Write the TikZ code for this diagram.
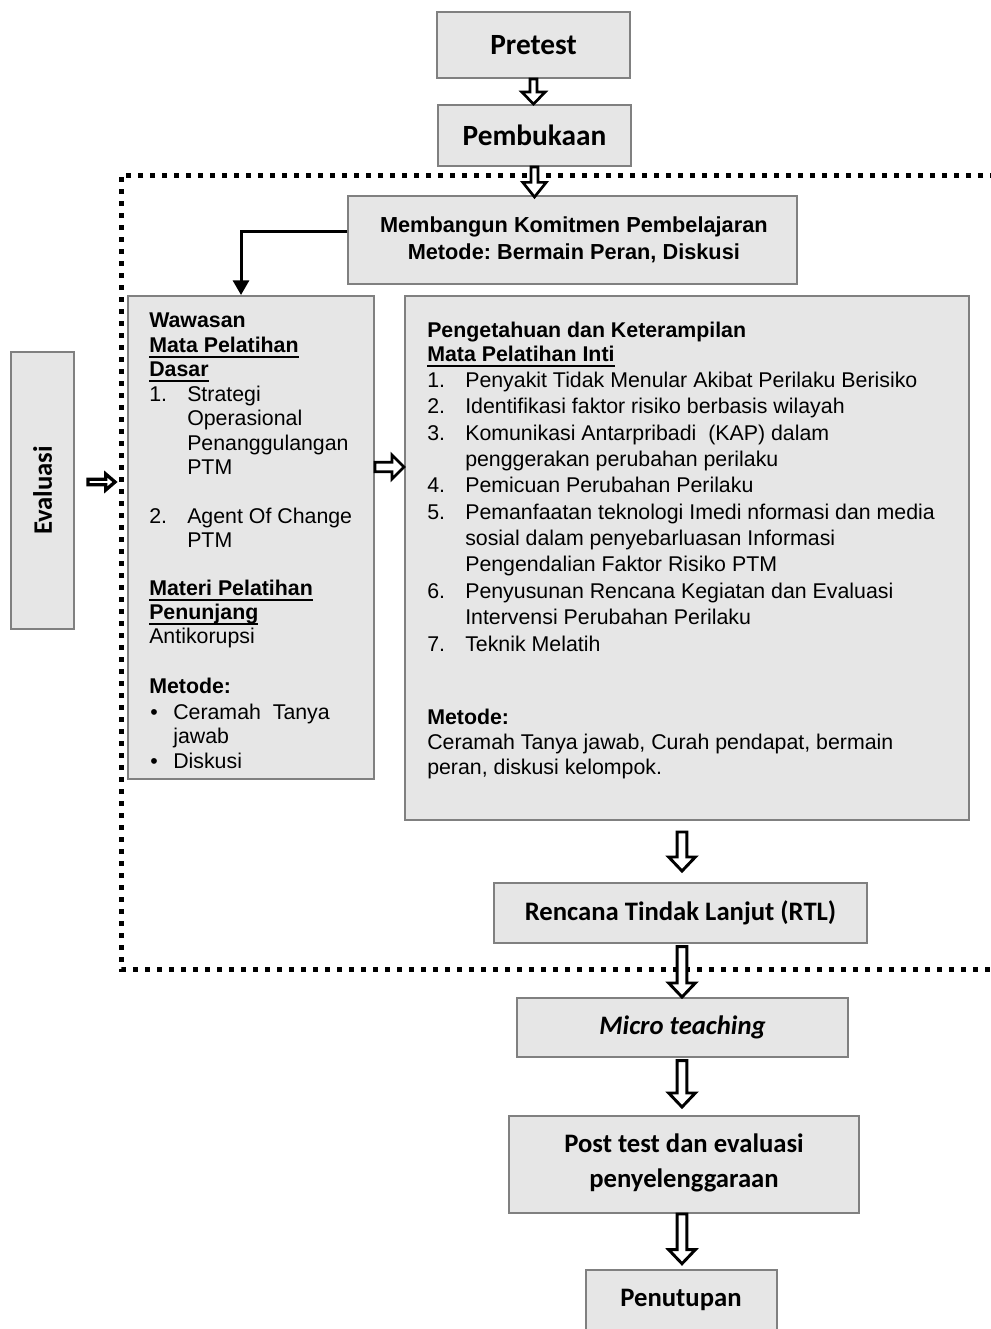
\documentclass[tikz,border=0pt]{standalone}
\usepackage{fontspec}
\setmainfont{Liberation Sans}
\newfontfamily\calib{Carlito}
\usetikzlibrary{arrows.meta,fit,calc}
\definecolor{boxfill}{HTML}{E6E6E6}
\definecolor{boxline}{HTML}{808080}
\frenchspacing
\newcommand\myul[1]{\leavevmode\setbox0\hbox{#1}\rlap{\rule[-4.2pt]{\wd0}{1.4pt}}\box0}
\tikzset{
  box/.style={draw=boxline, fill=boxfill, line width=1.5pt, inner sep=0pt},
  ttl/.style={inner sep=0pt, font=\frenchspacing\calib\bfseries\fontsize{20}{26}\selectfont},
  bigttl/.style={inner sep=0pt, font=\calib\bfseries\fontsize{22}{28}\selectfont},
  tx/.style={anchor=base west, inner sep=0pt, font=\fontsize{16}{19}\selectfont},
  hollow/.style={draw=black, fill=white, line width=1.9pt, line join=miter},
  hdown/.style n args={3}{to path={let \p1=(\tikztostart), \p2=(\tikztotarget) in
    (\x1-#1,\y1) -- (\x1-#1,\y2+#3) -- (\x1-#2,\y2+#3) -- (\x1,\y2) -- (\x1+#2,\y2+#3) -- (\x1+#1,\y2+#3) -- (\x1+#1,\y1) -- cycle}},
  hright/.style n args={3}{to path={let \p1=(\tikztostart), \p2=(\tikztotarget) in
    (\x1,\y1+#1) -- (\x2-#3,\y1+#1) -- (\x2-#3,\y1+#2) -- (\x2,\y1) -- (\x2-#3,\y1-#2) -- (\x2-#3,\y1-#1) -- (\x1,\y1-#1) -- cycle}},
}
\begin{document}
\begin{tikzpicture}[x=0.75pt,y=-0.75pt]
\fill[white] (0,0) rectangle (990,1329);
\useasboundingbox (0,0) rectangle (990,1329);

% dotted frame
\draw[line width=3.75pt, dash pattern=on 3.75pt off 5.25pt] (995,175) -- (121,175) -- (121,969) -- (995,969);

% boxes
\node[box, fit={(437,12) (630,78)}] (pre) {};
\node[bigttl] (pret) at (pre.center) {Pretest};
\node[box, fit={(438,105) (631,166)}] (pem) {};
\node[bigttl] (pemt) at (pem.center) {Pembukaan};
\node[box, fit={(348,196) (797,284)}] (mem) {};
\node[inner sep=0pt, align=center, font=\bfseries\fontsize{16.3}{20.25}\selectfont] (memt) at ([xshift=1pt]mem.center) {Membangun Komitmen Pembelajaran\\Metode: Bermain Peran, Diskusi};
\node[box, fit={(128,296) (374,779)}] (lbox) {};
\node[box, fit={(405,296) (969,820)}] (rbox) {};
\node[box, fit={(11,352) (74,629)}] (ev) {};
\node[ttl, rotate=90] (evt) at (ev.center) {Evaluasi};
\node[box, fit={(494,883) (867,943)}] (rtl) {};
\node[ttl] (rtlt) at (rtl.center) {Rencana Tindak Lanjut (RTL)};
\node[box, fit={(517,998) (848,1057)}] (micro) {};
\node[ttl] (microt) at (micro.center) {\itshape Micro teaching};
\node[box, fit={(509,1116) (859,1213)}] (post) {};
\node[ttl, align=center, font=\calib\bfseries\fontsize{20}{26.25}\selectfont] (postt) at ([yshift=1pt]post.center) {Post test dan evaluasi\\penyelenggaraan};
\node[box, fit={(586,1270) (777,1335)}] (pen) {};
\node[ttl] (pent) at (681,1300) {Penutupan};

% left box text
\foreach \x/\y/\t [count=\i] in {
  149/327/{\textbf{Wawasan}},
  149/352/{\textbf{\myul{Mata Pelatihan}}},
  149/376/{\textbf{\myul{Dasar}}},
  149/401/{1.},
  187/401/{Strategi},
  187/425/{Operasional},
  187/450/{Penanggulangan},
  187/474/{PTM},
  149/523/{2.},
  187/523/{Agent Of Change},
  187/547/{PTM},
  149/595/{\textbf{\myul{Materi Pelatihan}}},
  149/619/{\textbf{\myul{Penunjang}}},
  149/643/{Antikorupsi},
  149/693/{\textbf{Metode:}},
  150/719/{\textbullet},
  173/719/{Ceramah\ \ Tanya},
  173/743/{jawab},
  150/768/{\textbullet},
  173/768/{Diskusi}}
  \node[tx] (l\i) at (\x,\y) {\t};

% right box text
\foreach \x/\y/\t [count=\i] in {
  427/337/{\textbf{Pengetahuan dan Keterampilan}},
  427/361/{\textbf{\myul{Mata Pelatihan Inti}}},
  427/387/{1.}, 465/387/{Penyakit Tidak Menular Akibat Perilaku Berisiko},
  427/413/{2.}, 465/413/{Identifikasi faktor risiko berbasis wilayah},
  427/440/{3.}, 465/440/{Komunikasi Antarpribadi\ \ (KAP) dalam},
  465/466/{penggerakan perubahan perilaku},
  427/492/{4.}, 465/492/{Pemicuan Perubahan Perilaku},
  427/519/{5.}, 465/519/{Pemanfaatan teknologi Imedi nformasi dan media},
  465/545/{sosial dalam penyebarluasan Informasi},
  465/571/{Pengendalian Faktor Risiko PTM},
  427/598/{6.}, 465/598/{Penyusunan Rencana Kegiatan dan Evaluasi},
  465/624/{Intervensi Perubahan Perilaku},
  427/651/{7.}, 465/651/{Teknik Melatih},
  427/724/{\textbf{Metode:}},
  427/749/{Ceramah Tanya jawab, Curah pendapat, bermain},
  427/774/{peran, diskusi kelompok.}}
  \node[tx] (r\i) at (\x,\y) {\t};

% connectors
\coordinate (ax) at (682,0);
\coordinate (r1) at (682,832);
\coordinate (r2) at (682,871);
\coordinate (hm) at (390,467);
\coordinate (e1) at (88,482);
\coordinate (e2) at (115,482);

\draw[hollow, line width=2pt, hdown={2.6pt}{8.8pt}{9pt}] (pre.south) to (pem.north);
\draw[hollow, line width=2pt, hdown={2.6pt}{8.8pt}{11pt}] (pem.south) to ([yshift=-1.5pt]mem.north);
\draw[line width=2.25pt, -{Triangle[length=11pt,width=12pt]}] ([yshift=6.75pt]mem.west) -| ([xshift=-7.5pt]lbox.north);
\draw[hollow, line width=2.1pt, hright={3.6pt}{9pt}{9pt}] (lbox.east |- hm) to (rbox.west |- hm);
\draw[hollow, line width=2.5pt, hright={2.1pt}{6pt}{7pt}] (e1) to (e2);
\draw[hollow, line width=2.2pt, hdown={3.6pt}{10pt}{10.5pt}] (r1) to (r2);
\draw[hollow, line width=2.2pt, hdown={3.6pt}{10pt}{10.5pt}] ([yshift=-2pt]rtl.south -| ax) to (micro.north -| ax);
\draw[hollow, line width=2.2pt, hdown={3.6pt}{10pt}{10.5pt}] ([yshift=-2pt]micro.south -| ax) to ([yshift=6pt]post.north -| ax);
\draw[hollow, line width=2.2pt, hdown={3.6pt}{10pt}{10.5pt}] (post.south -| ax) to ([yshift=4pt]pen.north -| ax);
\end{tikzpicture}
\end{document}
